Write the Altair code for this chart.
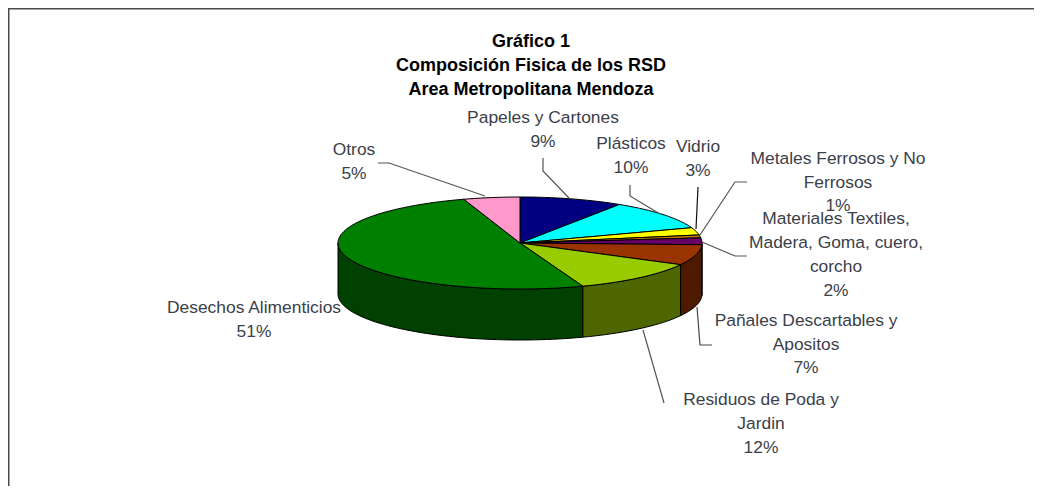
import math
import altair as alt
import pandas as pd

# ---- data ----
categories = ["Papeles y Cartones", "Plásticos", "Vidrio", "Metales Ferrosos y No Ferrosos",
              "Materiales Textiles, Madera, Goma, cuero, corcho", "Pañales Descartables y Apositos",
              "Residuos de Poda y Jardin", "Desechos Alimenticios", "Otros"]
shares = [9.2, 10.4, 2.6, 1.0, 2.4, 7.2, 11.6, 50.6, 5.0]
percent_labels = ["9%", "10%", "3%", "1%", "2%", "7%", "12%", "51%", "5%"]
top_colors = ["#000080", "#00FFFF", "#FFFF00", "#C87800", "#660066", "#993300", "#99CC00", "#008000", "#FF99CC"]
side_colors = ["#000040", "#008080", "#808000", "#643C00", "#330033", "#4D1A00", "#4D6600", "#004000", "#804D66"]

title_lines = ["Gráfico 1", "Composición Fisica de los RSD", "Area Metropolitana Mendoza"]

# ---- layout (chart pixels; the page adds 8px) ----
W, H = 1026, 478
CX, CY, RX, RY, DEPTH = 512, 235, 182, 46, 51
OX, OY = 8, 7
TEXT = "#3b4049"


def pt(deg, dy=0):
    a = math.radians(deg)
    return [CX + RX * math.sin(a), CY - RY * math.cos(a) + dy]


def arc(a0, a1):
    n = max(2, int(abs(a1 - a0) / 2) + 2)
    return [a0 + (a1 - a0) * i / (n - 1) for i in range(n)]


features_side, features_top = [], []
cum = 0.0
for name, s, ct, cs in zip(categories, shares, top_colors, side_colors):
    a0, a1 = cum * 3.6, (cum + s) * 3.6
    cum += s
    ring = [[CX, CY]] + [pt(a) for a in arc(a0, a1)] + [[CX, CY]]
    features_top.append({"type": "Feature", "properties": {"name": name, "color": ct},
                         "geometry": {"type": "Polygon", "coordinates": [ring]}})
    f0, f1 = max(a0, 90), min(a1, 270)
    if f1 > f0:
        angs = arc(f0, f1)
        side = [pt(a) for a in angs] + [pt(a, DEPTH) for a in reversed(angs)]
        side.append(side[0])
        features_side.append({"type": "Feature", "properties": {"name": name, "color": cs},
                              "geometry": {"type": "Polygon", "coordinates": [side]}})


def pie_layer(features):
    return (alt.Chart(alt.Data(values=features))
            .mark_geoshape(stroke="#000000", strokeWidth=1, strokeJoin="round")
            .encode(fill=alt.Fill("properties.color:N", scale=None))
            .project(type="identity", scale=1, translate=[0, 0]))


# label rows: text, centre x, centre y in page pixels
label_rows = [
    ("Papeles y Cartones", 543, 117), (percent_labels[0], 543, 141),
    ("Plásticos", 631, 143), (percent_labels[1], 631, 167),
    ("Vidrio", 698, 146), (percent_labels[2], 698, 170),
    ("Metales Ferrosos y No", 838, 158), ("Ferrosos", 838, 182), (percent_labels[3], 838, 205),
    ("Materiales Textiles,", 836, 218), ("Madera, Goma, cuero,", 836, 242), ("corcho", 836, 266),
    (percent_labels[4], 836, 290),
    ("Pañales Descartables y", 806, 320), ("Apositos", 806, 344), (percent_labels[5], 806, 367),
    ("Residuos de Poda y", 761, 399), ("Jardin", 761, 423), (percent_labels[6], 761, 447),
    ("Desechos Alimenticios", 254, 307), (percent_labels[7], 254, 331),
    ("Otros", 354, 149), (percent_labels[8], 354, 173),
]
labels_df = pd.DataFrame([{"t": t, "x": x - OX, "y": y - OY} for t, x, y in label_rows])
title_df = pd.DataFrame([{"t": t, "x": 531 - OX, "y": y - OY} for t, y in zip(title_lines, [41, 65, 89])])

# leader lines, page pixels
leaders = [
    ([(378, 163), (389, 163), (485, 196)], "#555555"),
    ([(543, 158), (543, 171), (569, 198)], "#555555"),
    ([(630, 185), (630, 196), (660, 214)], "#555555"),
    ([(698, 187), (696, 229)], "#111111"),
    ([(747, 182), (735, 182), (700, 235)], "#555555"),
    ([(747, 256), (735, 256), (702, 242)], "#555555"),
    ([(712, 345), (700, 345), (697, 307)], "#444444"),
    ([(664, 403), (643, 330)], "#555555"),
]
leader_rows = []
for i, (pts, col) in enumerate(leaders):
    for j, (x, y) in enumerate(pts):
        leader_rows.append({"id": i, "o": j, "x": x - 8, "y": y - 8, "c": col})
leader_df = pd.DataFrame(leader_rows)

frame_df = pd.DataFrame({"x": [0.5, 0.5, W], "y": [H, 0.5, 0.5], "o": [0, 1, 2]})

xs = alt.Scale(domain=[0, W], range=[0, W], nice=False, zero=False)
ys = alt.Scale(domain=[0, H], range=[0, H], nice=False, zero=False)
X = alt.X("x:Q", scale=xs, axis=None)
Y = alt.Y("y:Q", scale=ys, axis=None)

frame = alt.Chart(frame_df).mark_line(color="#4a4a4a", strokeWidth=2, clip=False).encode(
    x=X, y=Y, order="o:Q")
leader = alt.Chart(leader_df).mark_line(strokeWidth=1.2).encode(
    x=X, y=Y, detail="id:N", order="o:Q", color=alt.Color("c:N", scale=None))
labels = alt.Chart(labels_df).mark_text(
    font="Liberation Sans", fontSize=17.4, color=TEXT, align="center", baseline="middle").encode(
    x=X, y=Y, text="t:N")
title = alt.Chart(title_df).mark_text(
    font="Liberation Sans", fontSize=18, fontWeight="bold", color="#000000",
    align="center", baseline="middle").encode(x=X, y=Y, text="t:N")

chart = alt.layer(frame, pie_layer(features_side), pie_layer(features_top), leader, labels, title).properties(
    width=W, height=H, padding=0, background="#ffffff",
    autosize=alt.AutoSizeParams(type="none")
).configure_view(stroke=None)

chart.save("out.html", embed_options={"renderer": "svg", "actions": False})
